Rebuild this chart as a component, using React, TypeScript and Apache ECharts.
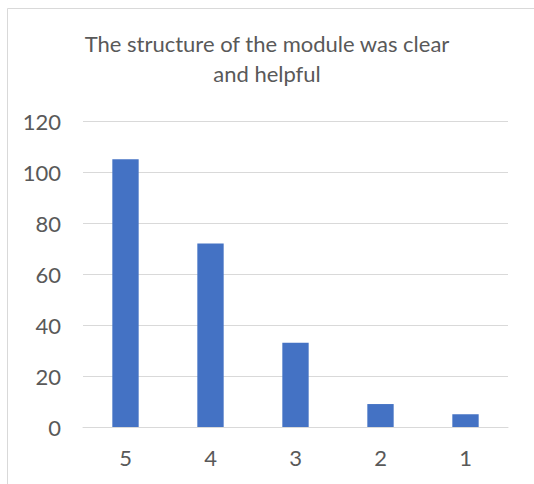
import React, { useEffect, useRef } from "react";
import * as echarts from "echarts";

const titleText = "The structure of the module was clear\nand helpful";
const categories = ["5", "4", "3", "2", "1"];
const values = [105, 72, 33, 9, 5];
const yTicks = { min: 0, max: 120, interval: 20 };

export default function App() {
  const ref = useRef<HTMLDivElement>(null);
  useEffect(() => {
    if (!ref.current) return;
    const chart = echarts.init(ref.current, undefined, { renderer: "svg" });
    chart.setOption({
      animation: false,
      backgroundColor: "#ffffff",
      title: {
        text: titleText,
        left: "center",
        top: 23,
        textStyle: {
          fontFamily: "Lato",
          fontSize: 22,
          fontWeight: "normal",
          color: "#595959",
          lineHeight: 30,
        },
      },
      graphic: [
        {
          type: "rect",
          shape: { x: 7.5, y: 8.5, width: 600, height: 600 },
          style: { fill: "none", stroke: "#d9d9d9", lineWidth: 1 },
          silent: true,
        },
      ],
      grid: { left: 83, right: 26, top: 121, bottom: 57, containLabel: false },
      xAxis: {
        type: "category",
        data: categories,
        axisTick: { show: false },
        axisLine: { lineStyle: { color: "#d9d9d9", width: 1 } },
        axisLabel: { color: "#595959", fontSize: 22, fontFamily: "Lato", margin: 19 },
      },
      yAxis: {
        type: "value",
        min: yTicks.min,
        max: yTicks.max,
        interval: yTicks.interval,
        axisLine: { show: false },
        axisTick: { show: false },
        splitLine: { lineStyle: { color: "#d9d9d9", width: 1 } },
        axisLabel: { color: "#595959", fontSize: 22, fontFamily: "Lato", margin: 22 },
      },
      series: [
        {
          type: "bar",
          data: values,
          barWidth: "31%",
          itemStyle: { color: "#4472C4" },
        },
      ],
    });
    return () => chart.dispose();
  }, []);
  return (
    <div
      ref={ref}
      style={{ position: "fixed", left: 0, top: 0, width: 534, height: 484 }}
    />
  );
}
